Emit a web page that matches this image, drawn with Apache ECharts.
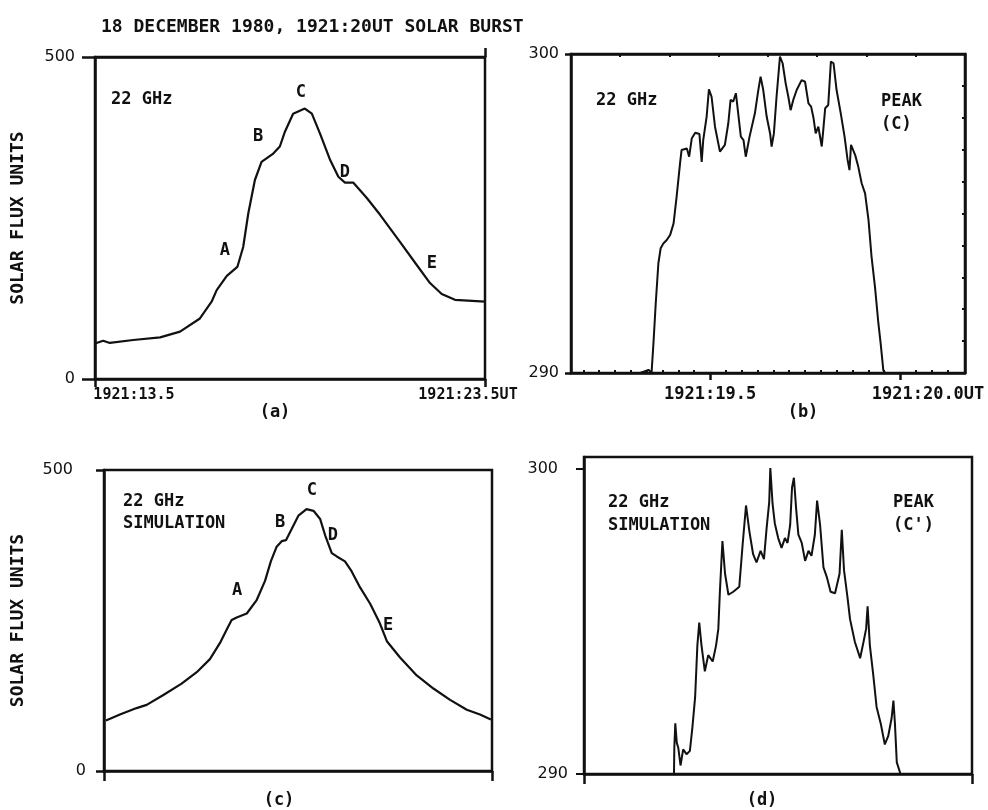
<!DOCTYPE html>
<html>
<head>
<meta charset="utf-8">
<script src="https://cdn.jsdelivr.net/npm/echarts@6.0.0/dist/echarts.min.js"></script>
<style>
  html, body { margin: 0; padding: 0; background: #fff; }
  #main { width: 988px; height: 810px; }
</style>
</head>
<body>
<div id="main"></div>
<script>
// (a) observed 22 GHz burst, time in seconds after 1921:00 UT
var timeA = [13.5, 13.71, 13.88, 14.48, 15.17, 15.68, 16.19, 16.49, 16.62, 16.88, 17.15, 17.30, 17.43, 17.60, 17.77,
  18.07, 18.24, 18.37, 18.58, 18.88, 19.06, 19.27, 19.53, 19.74, 19.91, 20.12, 20.47, 20.81, 21.32, 21.75, 22.09, 22.39, 22.73, 23.5];
var fluxA = [55, 59.5, 56, 60.6, 64.7, 73.5, 94, 120, 138, 160, 174, 205, 257, 309, 337,
  350, 361, 384, 412, 420, 412, 381, 340, 314, 305, 305, 281, 255, 213, 177, 149, 132, 123, 120];

// (b) observed peak (C), zoomed
var timeB = [19.316, 19.338, 19.346, 19.351, 19.357, 19.364, 19.370, 19.377, 19.386, 19.395, 19.404, 19.412, 19.421, 19.425,
  19.439, 19.445, 19.452, 19.461, 19.472, 19.478, 19.482, 19.491, 19.497, 19.504, 19.513, 19.526, 19.539, 19.548, 19.554,
  19.561, 19.568, 19.575, 19.581, 19.588, 19.594, 19.604, 19.618, 19.627, 19.633, 19.640, 19.649, 19.658, 19.662, 19.668,
  19.675, 19.684, 19.691, 19.699, 19.706, 19.712, 19.719, 19.728, 19.741, 19.750, 19.759, 19.766, 19.772, 19.778, 19.785,
  19.794, 19.798, 19.803, 19.811, 19.818, 19.825, 19.833, 19.844, 19.854, 19.862, 19.867, 19.871, 19.882, 19.890, 19.899,
  19.908, 19.917, 19.925, 19.934, 19.943, 19.949, 19.956, 19.961, 19.969];
var fluxB = [290.0, 290.1, 290.0, 290.93, 292.18, 293.44, 293.91, 294.06, 294.17, 294.33, 294.69, 295.53, 296.57, 296.99,
  297.04, 296.78, 297.36, 297.53, 297.49, 296.62, 297.30, 298.04, 298.89, 298.66, 297.72, 296.94, 297.15, 297.83, 298.56,
  298.51, 298.77, 298.04, 297.41, 297.30, 296.78, 297.41, 298.14, 298.87, 299.29, 298.87, 298.04, 297.51, 297.10, 297.51,
  298.66, 299.92, 299.71, 299.08, 298.66, 298.24, 298.56, 298.87, 299.18, 299.13, 298.45, 298.35, 298.01, 297.51, 297.72,
  297.10, 297.62, 298.30, 298.40, 299.76, 299.71, 298.87, 298.14, 297.41, 296.68, 296.36, 297.15, 296.83, 296.47, 295.95,
  295.63, 294.80, 293.65, 292.71, 291.56, 290.93, 290.09, 290.0, 290.0];

// (c) simulation
var timeC = [13.55, 13.91, 14.34, 14.60, 15.03, 15.50, 15.89, 16.23, 16.49, 16.66, 16.79, 16.92, 17.18, 17.43, 17.65, 17.80,
  17.95, 18.08, 18.19, 18.34, 18.51, 18.72, 18.90, 19.07, 19.20, 19.37, 19.50, 19.71, 19.88, 20.10, 20.36, 20.61, 20.79,
  21.13, 21.56, 21.99, 22.42, 22.85, 23.19, 23.47];
var fluxC = [84.0, 93.7, 104.5, 109.9, 126.2, 145.1, 164.1, 185.8, 212.8, 234.5, 250.8, 255.1, 261.6, 283.3, 315.8, 348.2,
  372.6, 381.8, 383.5, 402.4, 424.1, 434.9, 432.2, 418.7, 391.6, 361.8, 356.4, 348.2, 332.0, 304.9, 277.8, 245.3, 215.6,
  188.5, 158.7, 137.0, 118.1, 101.8, 93.7, 85.6];

// (d) simulated peak (C')
var timeD = [19.3745, 19.3754, 19.378, 19.382, 19.386, 19.392, 19.399, 19.408, 19.417, 19.424, 19.431, 19.437, 19.442, 19.448,
  19.457, 19.466, 19.478, 19.487, 19.493, 19.497, 19.504, 19.511, 19.520, 19.533, 19.549, 19.558, 19.567, 19.576, 19.586,
  19.595, 19.606, 19.615, 19.622, 19.629, 19.632, 19.638, 19.644, 19.653, 19.662, 19.671, 19.678, 19.685, 19.690, 19.695,
  19.701, 19.707, 19.716, 19.725, 19.734, 19.742, 19.751, 19.757, 19.765, 19.774, 19.783, 19.793, 19.805, 19.817, 19.823,
  19.829, 19.838, 19.845, 19.858, 19.872, 19.881, 19.888, 19.892, 19.898, 19.907, 19.916, 19.927, 19.938, 19.947, 19.956,
  19.961, 19.965, 19.970, 19.980];
var fluxD = [290.0, 290.86, 291.66, 291.02, 290.86, 290.28, 290.81, 290.65, 290.76, 291.56, 292.52, 294.22, 294.97, 294.22,
  293.37, 293.90, 293.69, 294.22, 294.76, 295.93, 297.64, 296.57, 295.88, 295.98, 296.14, 297.53, 298.81, 297.96, 297.21,
  296.94, 297.32, 297.05, 298.06, 298.92, 300.04, 298.86, 298.22, 297.74, 297.42, 297.74, 297.58, 298.17, 299.40, 299.72,
  298.70, 297.85, 297.58, 296.99, 297.32, 297.16, 297.85, 298.97, 298.17, 296.78, 296.46, 295.98, 295.93, 296.57, 298.01,
  296.68, 295.82, 295.08, 294.33, 293.80, 294.33, 294.76, 295.50, 294.22, 293.26, 292.20, 291.66, 290.97, 291.24, 291.82,
  292.41, 291.66, 290.38, 290.0];

// letter annotations A..E
var letters = ['A', 'B', 'C', 'D', 'E'];
var letterTimeA = [16.83, 17.68, 18.78, 19.91, 22.14];
var letterFluxA = [200, 376, 444, 321, 180];
var letterTimeC = [16.93, 18.04, 18.86, 19.40, 20.82];
var letterFluxC = [300, 412, 466, 391, 242];

// tick marks of the zoomed panels
var topTicksB = [19.263, 19.393, 19.524, 19.653, 19.781, 19.912, 20.042];
var minorTicksB = [19.167, 19.208, 19.25, 19.292, 19.333, 19.375, 19.417, 19.458, 19.542, 19.583, 19.625, 19.667,
  19.708, 19.75, 19.792, 19.833, 19.875, 19.917, 19.958, 20.042, 20.083, 20.125];
var unitTicksB = [291, 292, 293, 294, 295, 296, 297, 298, 299];

var mono = 'DejaVu Sans Mono';
var sans = 'DejaVu Sans';
var ink = '#111';

function pairs(xs, ys) {
  return xs.map(function (x, i) { return [x, ys[i]]; });
}
function letterData(xs, ys) {
  return letters.map(function (l, i) { return { name: l, value: [xs[i], ys[i]] }; });
}
function note(text, left, top, lh) {
  return { text: text, left: left, top: top,
    textStyle: { fontFamily: mono, fontSize: 17, fontWeight: 'bold', color: ink, lineHeight: lh || 22 } };
}

var lineAx = { show: true, onZero: false, lineStyle: { color: ink, width: 2.5 } };
var letterLabel = { show: true, position: 'inside', formatter: '{b}', color: ink, opacity: 1,
  fontFamily: mono, fontSize: 17, fontWeight: 'bold' };

var myChart = echarts.init(document.getElementById('main'));

var options = {
  backgroundColor: '#fff',
  animation: false,
  title: [
    { text: '18 DECEMBER 1980, 1921:20UT SOLAR BURST', left: 96, top: 13,
      textStyle: { fontFamily: mono, fontSize: 18, fontWeight: 'bold', color: ink } },
    note('22 GHz', 106, 84),
    note('22 GHz', 591, 85),
    note('PEAK\n(C)', 876, 85, 23),
    note('22 GHz\nSIMULATION', 118, 486),
    note('22 GHz\nSIMULATION', 603, 486, 23),
    note('PEAK\n(C\')', 888, 486, 23)
  ],
  grid: [
    { left: 95, top: 57, width: 390, height: 322, show: true, borderColor: ink, borderWidth: 2.5 },
    { left: 571, top: 54, width: 394, height: 319, show: true, borderColor: ink, borderWidth: 2.5 },
    { left: 104, top: 470, width: 388, height: 308, show: true, borderColor: ink, borderWidth: 2.5 },
    { left: 584, top: 457, width: 388, height: 325, show: true, borderColor: ink, borderWidth: 2.5 }
  ],
  xAxis: [
    { // 0: (a) bottom
      type: 'value', gridIndex: 0, position: 'bottom', min: 13.5, max: 23.5,
      axisLine: lineAx, splitLine: { show: false },
      axisTick: { customValues: [13.5, 23.5], length: 8, lineStyle: { color: ink, width: 2.5 } },
      axisLabel: {
        customValues: [13.5, 23.5], showMinLabel: true, showMaxLabel: true, margin: 9, color: ink,
        fontFamily: mono, fontSize: 16, fontWeight: 'bold',
        formatter: function (v) { return v < 20 ? '{l|1921:13.5}' : '{r|1921:23.5UT}'; },
        rich: {
          l: { padding: [0, 0, 0, 78], fontFamily: mono, fontSize: 15, fontWeight: 'bold' },
          r: { padding: [0, 34, 0, 0], fontFamily: mono, fontSize: 15, fontWeight: 'bold' }
        }
      },
      name: '(a)', nameLocation: 'middle', nameGap: 18,
      nameTextStyle: { fontFamily: mono, fontSize: 17, fontWeight: 'bold', color: ink, padding: [0, 30, 0, 0] }
    },
    { // 1: (a) top
      type: 'value', gridIndex: 0, position: 'top', min: 13.5, max: 23.5,
      axisLine: lineAx, splitLine: { show: false }, axisLabel: { show: false },
      axisTick: { customValues: [23.5], length: 9, lineStyle: { color: ink, width: 2.5 } }
    },
    { // 2: (b) bottom, major ticks
      type: 'value', gridIndex: 1, position: 'bottom', min: 19.134, max: 20.171,
      axisLine: lineAx, splitLine: { show: false },
      axisTick: { customValues: [19.5, 20.0], length: 7, lineStyle: { color: ink, width: 2.5 } },
      axisLabel: {
        customValues: [19.5, 20.0], showMinLabel: true, showMaxLabel: true, margin: 13, color: ink,
        fontFamily: mono, fontSize: 17, fontWeight: 'bold',
        formatter: function (v) { return v < 19.8 ? '1921:19.5' : '{r|1921:20.0UT}'; },
        rich: { r: { padding: [0, 0, 0, 56], fontFamily: mono, fontSize: 17, fontWeight: 'bold' } }
      },
      name: '(b)', nameLocation: 'middle', nameGap: 19,
      nameTextStyle: { fontFamily: mono, fontSize: 17, fontWeight: 'bold', color: ink, padding: [0, 0, 0, 70] }
    },
    { // 3: (b) top, small ticks
      type: 'value', gridIndex: 1, position: 'top', min: 19.134, max: 20.171,
      axisLine: lineAx, splitLine: { show: false }, axisLabel: { show: false },
      axisTick: { customValues: topTicksB, inside: true, length: 3, lineStyle: { color: ink, width: 2 } }
    },
    { // 4: (c) bottom
      type: 'value', gridIndex: 2, position: 'bottom', min: 13.5, max: 23.5,
      axisLine: lineAx, splitLine: { show: false }, axisLabel: { show: false },
      axisTick: { customValues: [13.5, 23.5], length: 10, lineStyle: { color: ink, width: 2.5 } },
      name: '(c)', nameLocation: 'middle', nameGap: 21,
      nameTextStyle: { fontFamily: mono, fontSize: 17, fontWeight: 'bold', color: ink, padding: [0, 38, 0, 0] }
    },
    { // 5: (d) bottom
      type: 'value', gridIndex: 3, position: 'bottom', min: 19.134, max: 20.171,
      axisLine: lineAx, splitLine: { show: false }, axisLabel: { show: false },
      axisTick: { customValues: [19.134, 20.171], length: 10, lineStyle: { color: ink, width: 2.5 } },
      name: '(d)', nameLocation: 'middle', nameGap: 18,
      nameTextStyle: { fontFamily: mono, fontSize: 17, fontWeight: 'bold', color: ink, padding: [0, 32, 0, 0] }
    },
    { // 6: (b) bottom, minor ticks
      type: 'value', gridIndex: 1, position: 'bottom', offset: 0, min: 19.134, max: 20.171,
      axisLine: { show: false }, splitLine: { show: false }, axisLabel: { show: false },
      axisTick: { customValues: minorTicksB, inside: true, length: 3, lineStyle: { color: ink, width: 2 } }
    }
  ],
  yAxis: [
    { // 0: (a)
      type: 'value', gridIndex: 0, position: 'left', min: 0, max: 500,
      axisLine: lineAx, splitLine: { show: false },
      axisTick: { customValues: [0, 500], length: 13, lineStyle: { color: ink, width: 2.5 } },
      axisLabel: { customValues: [0, 500], margin: 20, color: ink, fontFamily: sans, fontSize: 16 },
      name: 'SOLAR FLUX UNITS', nameLocation: 'middle', nameGap: 68,
      nameTextStyle: { fontFamily: mono, fontSize: 18, fontWeight: 'bold', color: ink }
    },
    { // 1: (b) left
      type: 'value', gridIndex: 1, position: 'left', min: 290, max: 300,
      axisLine: lineAx, splitLine: { show: false },
      axisTick: { customValues: [290, 300], length: 6, lineStyle: { color: ink, width: 2.5 } },
      axisLabel: { customValues: [290, 300], margin: 12, color: ink, fontFamily: sans, fontSize: 16 }
    },
    { // 2: (b) right
      type: 'value', gridIndex: 1, position: 'right', min: 290, max: 300,
      axisLine: lineAx, splitLine: { show: false }, axisLabel: { show: false },
      axisTick: { customValues: unitTicksB, inside: true, length: 3, lineStyle: { color: ink, width: 2 } }
    },
    { // 3: (c)
      type: 'value', gridIndex: 2, position: 'left', min: 0, max: 500,
      axisLine: lineAx, splitLine: { show: false },
      axisTick: { customValues: [0, 500], length: 8, lineStyle: { color: ink, width: 2.5 } },
      axisLabel: {
        customValues: [0, 500], margin: 18, color: ink, fontFamily: sans, fontSize: 16,
        formatter: function (v) { return v > 0 ? '{p|500}' : '0'; },
        rich: { p: { padding: [0, 13, 0, 0], fontFamily: sans, fontSize: 16 } }
      },
      name: 'SOLAR FLUX UNITS', nameLocation: 'middle', nameGap: 77,
      nameTextStyle: { fontFamily: mono, fontSize: 18, fontWeight: 'bold', color: ink }
    },
    { // 4: (d)
      type: 'value', gridIndex: 3, position: 'left', min: 290, max: 300.4,
      axisLine: lineAx, splitLine: { show: false },
      axisTick: { customValues: [290, 300], length: 8, lineStyle: { color: ink, width: 2 } },
      axisLabel: {
        customValues: [290, 300], margin: 16, color: ink, fontFamily: sans, fontSize: 16,
        formatter: function (v) { return v > 295 ? '{p|300}' : '290'; },
        rich: { p: { padding: [0, 10, 0, 0], fontFamily: sans, fontSize: 16 } }
      }
    }
  ],
  series: [
    {
      name: 'observed', type: 'line', xAxisIndex: 0, yAxisIndex: 0, symbol: 'none',
      lineStyle: { color: ink, width: 2.2 }, data: pairs(timeA, fluxA)
    },
    {
      name: 'observed letters', type: 'scatter', xAxisIndex: 0, yAxisIndex: 0, symbolSize: 1,
      itemStyle: { color: 'transparent', opacity: 1 }, label: letterLabel,
      data: letterData(letterTimeA, letterFluxA)
    },
    {
      name: 'observed peak', type: 'line', xAxisIndex: 2, yAxisIndex: 1, symbol: 'none',
      lineStyle: { color: ink, width: 2 }, data: pairs(timeB, fluxB)
    },
    {
      name: 'simulation', type: 'line', xAxisIndex: 4, yAxisIndex: 3, symbol: 'none',
      lineStyle: { color: ink, width: 2.2 }, data: pairs(timeC, fluxC)
    },
    {
      name: 'simulation letters', type: 'scatter', xAxisIndex: 4, yAxisIndex: 3, symbolSize: 1,
      itemStyle: { color: 'transparent', opacity: 1 }, label: letterLabel,
      data: letterData(letterTimeC, letterFluxC)
    },
    {
      name: 'simulated peak', type: 'line', xAxisIndex: 5, yAxisIndex: 4, symbol: 'none',
      lineStyle: { color: ink, width: 2 }, data: pairs(timeD, fluxD)
    }
  ]
};

myChart.setOption(options);
</script>
</body>
</html>
